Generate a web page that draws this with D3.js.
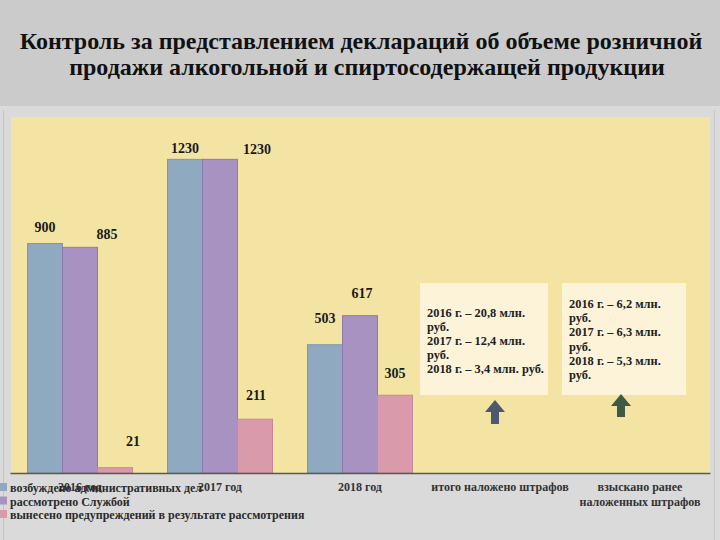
<!DOCTYPE html>
<html>
<head>
<meta charset="utf-8">
<script src="https://cdn.jsdelivr.net/npm/d3@7"></script>
<style>
  html, body { margin: 0; padding: 0; background: #dcdcdc; }
  svg { display: block; }
  text { font-family: "Liberation Serif", "Times New Roman", serif; }
</style>
</head>
<body>
<svg id="chart" width="720" height="540"></svg>
<script>
// ---- data ----
const titleLines = [
  "Контроль за представлением деклараций об объеме розничной",
  "продажи алкогольной  и спиртосодержащей продукции"
];
const categories = ["2016 год", "2017 год", "2018 год", "итого наложено штрафов", "взыскано ранее\nналоженных штрафов"];
const seriesNames = [
  "возбуждено административных дел",
  "рассмотрено Службой",
  "вынесено предупреждений в результате рассмотрения"
];
const casesOpened   = [900, 1230, 503, null, null];
const casesReviewed = [885, 1230, 617, null, null];
const warnings      = [21, 211, 305, null, null];
const finesImposed = ["2016 г. – 20,8 млн.", "руб.", "2017 г. – 12,4 млн.", "руб.", "2018 г. – 3,4 млн. руб."];
const finesCollected = ["2016 г. – 6,2 млн.", "руб.", "2017 г. – 6,3 млн.", "руб.", "2018 г. – 5,3 млн.", "руб."];
const yDomain = [0, 1400];

// ---- layout / style ----
const seriesValues = [casesOpened, casesReviewed, warnings];
const colors = ["#8fa9c0", "#a892c1", "#d99bab"];
const strokes = ["#7d97b0", "#9079ad", "#c9899a"];
// manual label nudges (dx, dy from bar centre / top), per series per category
const labelNudge = [
  [[0, -12], [0, -6], [0, -22]],
  [[27, -8], [37, -5], [2, -18]],
  [[18, -22], [1, -19], [0, -17]]
];

const svg = d3.select("#chart");

// backgrounds
svg.append("rect").attr("x", 0).attr("y", 0).attr("width", 720).attr("height", 106).attr("fill", "#cbcbcb");
svg.append("rect").attr("x", 0).attr("y", 106).attr("width", 720).attr("height", 434).attr("fill", "#dadada");
svg.append("line").attr("x1", 3.5).attr("x2", 3.5).attr("y1", 110).attr("y2", 540).attr("stroke", "#c4c4c4");
svg.append("line").attr("x1", 714.5).attr("x2", 714.5).attr("y1", 110).attr("y2", 540).attr("stroke", "#c8c8c8");

// title
svg.append("g").selectAll("text").data(titleLines).join("text")
  .attr("x", (d, i) => i === 0 ? 361 : 367)
  .attr("y", (d, i) => 49 + i * 26)
  .attr("text-anchor", "middle")
  .attr("font-size", 24)
  .attr("font-weight", "bold")
  .attr("fill", "#111")
  .text(d => d);

// scales
const x = d3.scaleBand().domain(categories).range([10, 710]).padding(0);
const xs = d3.scaleBand().domain(d3.range(seriesNames.length)).range([17.5, 122.5]).padding(0);
const y = d3.scaleLinear().domain(yDomain).range([473, 116]);

// plot area
svg.append("rect").attr("x", 11).attr("y", 117).attr("width", 699).attr("height", 356).attr("fill", "#f4e4a4");

// bars
const barsG = svg.append("g");
seriesValues.forEach((vals, s) => {
  const data = categories.map((c, i) => ({ c, i, v: vals[i] })).filter(d => d.v != null);
  barsG.append("g").selectAll("rect").data(data).join("rect")
    .attr("x", d => x(d.c) + xs(s))
    .attr("y", d => y(d.v))
    .attr("width", xs.bandwidth())
    .attr("height", d => y(0) - y(d.v))
    .attr("fill", colors[s])
    .attr("stroke", strokes[s])
    .attr("stroke-width", 1);
  barsG.append("g").selectAll("text").data(data).join("text")
    .attr("x", d => x(d.c) + xs(s) + xs.bandwidth() / 2 + labelNudge[s][d.i][0])
    .attr("y", d => y(d.v) + labelNudge[s][d.i][1])
    .attr("text-anchor", "middle")
    .attr("font-size", 14)
    .attr("font-weight", "bold")
    .attr("fill", "#1a1a1a")
    .text(d => d.v);
});

// baseline axis
const xAxis = d3.axisBottom(x).tickSize(0).tickFormat("");
const axG = svg.append("g").attr("transform", `translate(0,${y(0)})`).call(xAxis);
axG.select(".domain").attr("stroke", "#5a5a4a").attr("stroke-width", 1.5);

// category labels
svg.append("g").selectAll("text").data(categories).join("text")
  .attr("x", d => x(d) + x.bandwidth() / 2)
  .attr("y", 491)
  .attr("text-anchor", "middle")
  .attr("font-size", 12)
  .attr("font-weight", "bold")
  .attr("fill", "#333")
  .each(function (d) {
    d3.select(this).selectAll("tspan").data(d.split("\n")).join("tspan")
      .attr("x", x(d) + x.bandwidth() / 2)
      .attr("dy", (t, j) => j === 0 ? 0 : 15)
      .text(t => t);
  });

// text boxes
function box(x0, y0, w, h, lines, firstY, step) {
  svg.append("rect").attr("x", x0).attr("y", y0).attr("width", w).attr("height", h).attr("fill", "#fcf3d8");
  svg.append("g").selectAll("text").data(lines).join("text")
    .attr("x", x0 + 7)
    .attr("y", (d, i) => firstY + i * step)
    .attr("font-size", 12.4)
    .attr("font-weight", "bold")
    .attr("fill", "#222")
    .text(d => d);
}
box(420, 283, 128, 112, finesImposed, 317, 14);
box(562, 283, 124, 112, finesCollected, 308, 14.2);

// arrows
function arrow(cx, top, bottom, color) {
  const hw = 10, sw = 4, hh = 12;
  const p = d3.path();
  p.moveTo(cx, top);
  p.lineTo(cx + hw, top + hh);
  p.lineTo(cx + sw, top + hh);
  p.lineTo(cx + sw, bottom);
  p.lineTo(cx - sw, bottom);
  p.lineTo(cx - sw, top + hh);
  p.lineTo(cx - hw, top + hh);
  p.closePath();
  svg.append("path").attr("d", p.toString()).attr("fill", color);
}
arrow(x(categories[3]) + x.bandwidth() / 2 - 5, 400, 424, "#4b596a");
arrow(x(categories[4]) + x.bandwidth() / 2 - 19, 394, 417, "#3e5a47");

// legend
const lg = svg.append("g");
seriesNames.forEach((n, i) => {
  lg.append("rect").attr("x", 0).attr("y", 483 + i * 13.5).attr("width", 7).attr("height", 8).attr("fill", colors[i]);
  lg.append("text").attr("x", 10).attr("y", 492 + i * 13.5)
    .attr("font-size", 12).attr("font-weight", "bold").attr("fill", "#2a2a2a").text(n);
});
</script>
</body>
</html>
